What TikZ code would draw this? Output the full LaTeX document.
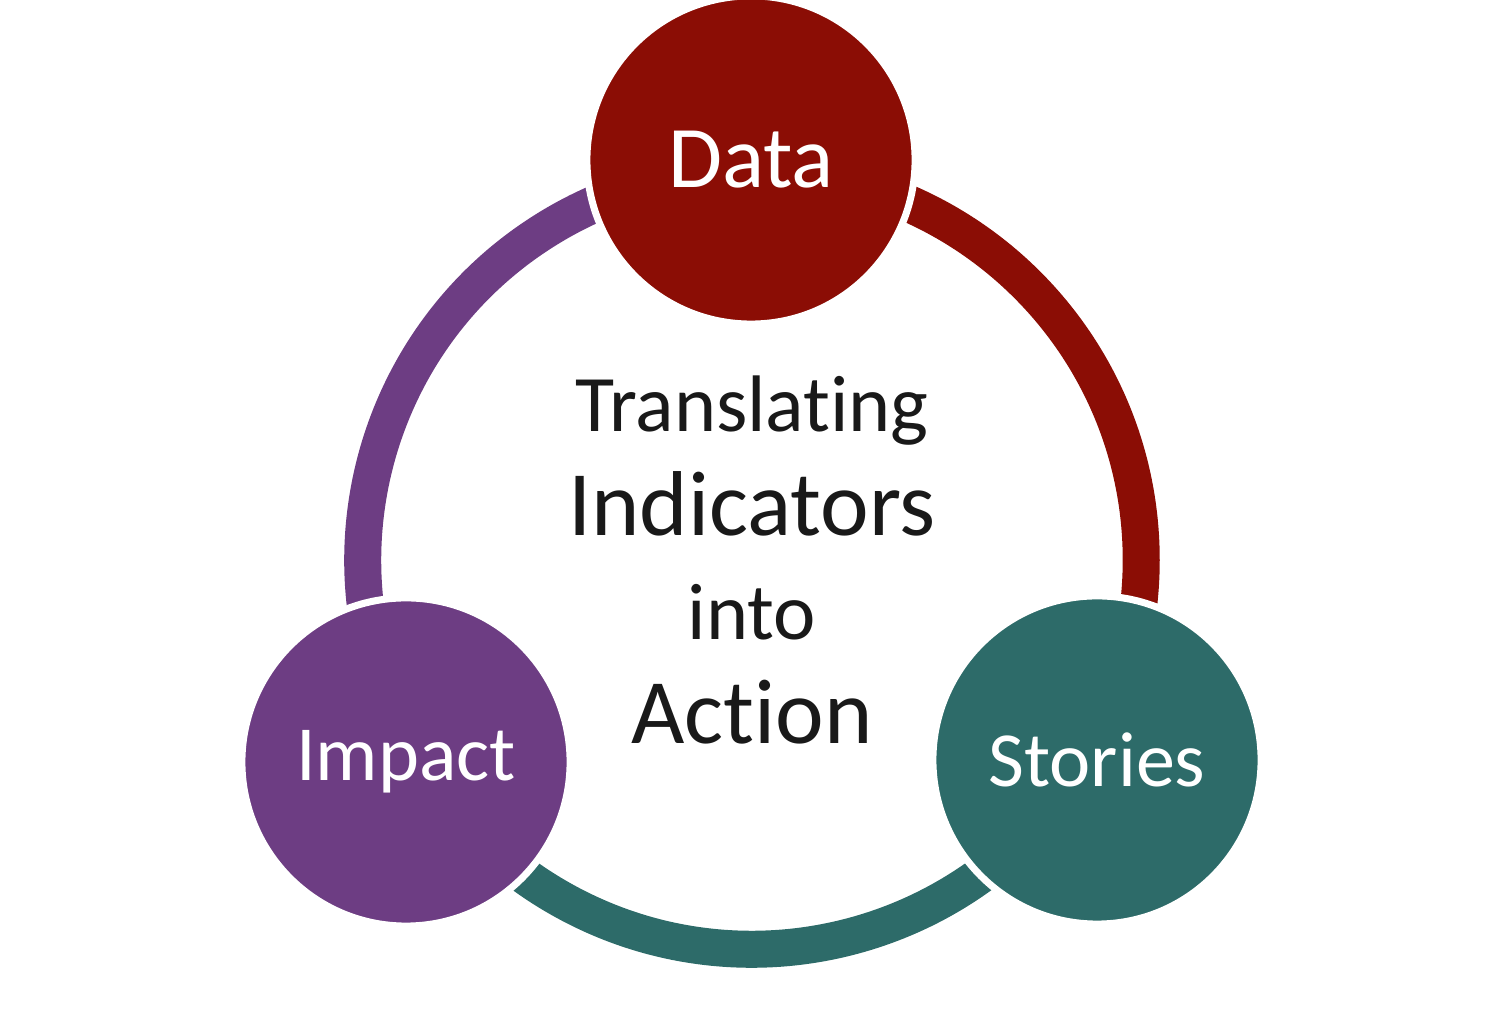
\documentclass[tikz,border=0pt]{standalone}
\usepackage{fontspec}
\setmainfont{Carlito}[Ligatures=NoCommon]
\usetikzlibrary{positioning}
\definecolor{datared}{RGB}{139,13,5}
\definecolor{impactpurple}{RGB}{109,61,131}
\definecolor{storiesteal}{RGB}{45,107,105}
\tikzset{
  stage/.style = {circle, draw=white, line width=2pt, minimum size=3.28cm,
                  inner sep=0pt, text=white, font=\fontsize{22.2}{26}\selectfont},
  ring/.style  = {line width=0.37cm},
}

\begin{document}
\begin{tikzpicture}[x=0.01cm, y=0.01cm]
  \useasboundingbox (0,0) rectangle (1500,1010);
  % ring behind the three stages
  \coordinate (hub) at (752,450);
  \draw[ring, datared] (hub) ++(90:3.89cm) arc[start angle=90, end angle=-30, radius=3.89cm];
  \draw[ring, storiesteal] (hub) ++(-30:3.89cm) arc[start angle=-30, end angle=-150, radius=3.89cm];
  \draw[ring, impactpurple] (hub) ++(210:3.89cm) arc[start angle=210, end angle=90, radius=3.89cm];
  % stages
  \node[stage, fill=datared, font=\fontsize{25}{30}\selectfont] (data) at (751,850) {Data};
  \node[stage, fill=impactpurple] (impact) at (406,248) {Impact};
  \node[stage, fill=storiesteal] (stories) at (1097,250) {Stories};
  % centre text
  \node[align=center, text=black!90, font=\fontsize{22.8}{29.6}\selectfont] (title) at (hub)
    {Translating\\
     \fontsize{26.2}{29.6}\selectfont Indicators\\
     into\\
     \fontsize{26.2}{29.6}\selectfont Action};
\end{tikzpicture}
\end{document}
